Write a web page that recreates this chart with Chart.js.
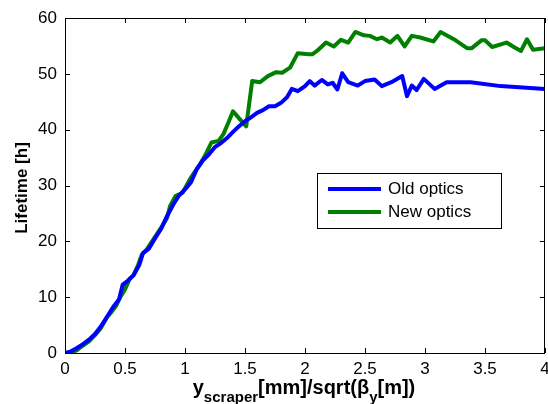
<!DOCTYPE html>
<html>
<head>
<meta charset="utf-8">
<script src="https://cdn.jsdelivr.net/npm/chart.js@4"></script>
<style>
  html, body { margin: 0; padding: 0; background: #fff; }
  #wrap { width: 548px; height: 404px; }
</style>
</head>
<body>
<div id="wrap"><canvas id="chart" width="548" height="404"></canvas></div>
<script>
// Old optics
const oldX = [0, 0.05, 0.1, 0.15, 0.2, 0.25, 0.3, 0.35, 0.4, 0.45, 0.48, 0.52, 0.57, 0.62, 0.65, 0.7, 0.75, 0.8, 0.85, 0.9,
    0.95, 1.0, 1.05, 1.1, 1.15, 1.2, 1.25, 1.3, 1.35, 1.4, 1.45, 1.5, 1.55, 1.6, 1.65, 1.7, 1.75, 1.8, 1.85, 1.89,
    1.94, 2.0, 2.04, 2.08, 2.14, 2.19, 2.23, 2.27, 2.31, 2.36, 2.44, 2.5, 2.58, 2.64, 2.72, 2.81, 2.85, 2.89, 2.93, 2.99,
    3.08, 3.18, 3.38, 3.63, 4.0];
const oldY = [0, 0.3, 0.9, 1.6, 2.4, 3.4, 4.8, 6.5, 8.2, 9.6, 12.2, 12.9, 13.9, 15.8, 17.9, 18.7, 20.5, 22.2, 24.5, 26.5,
    28.2, 29.3, 30.6, 33.0, 34.5, 35.6, 36.9, 37.6, 38.5, 39.6, 40.6, 41.5, 42.2, 43.0, 43.5, 44.2, 44.2, 44.8, 45.8, 47.3,
    46.9, 47.8, 48.7, 47.9, 48.9, 48.1, 48.4, 47.2, 50.1, 48.5, 47.9, 48.7, 49.0, 47.8, 48.5, 49.6, 46.0, 47.9, 47.1, 49.1,
    47.3, 48.5, 48.5, 47.8, 47.3];

// New optics
const newX = [0, 0.05, 0.1, 0.14, 0.2, 0.25, 0.3, 0.35, 0.39, 0.43, 0.46, 0.5, 0.54, 0.57, 0.61, 0.64, 0.68, 0.72, 0.76, 0.8,
    0.85, 0.875, 0.92, 0.98, 1.04, 1.08, 1.125, 1.17, 1.22, 1.28, 1.32, 1.36, 1.40, 1.46, 1.51, 1.56, 1.625, 1.69, 1.76, 1.81,
    1.875, 1.94, 2.03, 2.06, 2.10, 2.175, 2.24, 2.30, 2.36, 2.42, 2.49, 2.54, 2.60, 2.64, 2.71, 2.77, 2.83, 2.89, 2.96, 3.07,
    3.13, 3.24, 3.35, 3.39, 3.47, 3.5, 3.56, 3.68, 3.74, 3.80, 3.85, 3.90, 4.0];
const newY = [0, 0, 0.5, 1.2, 2.1, 3.2, 4.5, 6.4, 7.4, 8.6, 10.0, 11.4, 13.3, 13.9, 15.8, 17.6, 18.5, 19.8, 21.1, 22.4,
    24.2, 26.3, 28.1, 28.7, 31.1, 32.4, 33.8, 35.5, 37.7, 38.0, 39.2, 41.2, 43.3, 41.8, 40.6, 48.7, 48.5, 49.6, 50.3, 50.2,
    51.1, 53.7, 53.5, 53.5, 54.1, 55.6, 54.9, 56.1, 55.6, 57.5, 56.9, 56.8, 56.2, 56.5, 55.6, 56.8, 54.9, 56.8, 56.5, 55.8,
    57.5, 56.2, 54.6, 54.6, 56.0, 56.0, 54.8, 55.6, 54.8, 54.1, 56.2, 54.3, 54.6];

const seriesNames = ["Old optics", "New optics"];
const seriesColors = ["#0000ff", "#008000"];
const xTicks = [0, 0.5, 1, 1.5, 2, 2.5, 3, 3.5, 4];
const yTicks = [0, 10, 20, 30, 40, 50, 60];

const FONT = "'Liberation Sans', Arial, sans-serif";

function toPoints(xs, ys) {
    return xs.map((x, i) => ({ x: x, y: ys[i] }));
}

// box, inward ticks, titles and legend in MATLAB style
const matlabFrame = {
    id: "matlabFrame",
    afterDraw(chart) {
        const ctx = chart.ctx;
        const a = chart.chartArea;
        const xs = chart.scales.x;
        const ys = chart.scales.y;
        ctx.save();
        ctx.strokeStyle = "#000";
        ctx.lineWidth = 1;
        ctx.strokeRect(a.left + 0.5, a.top + 0.5, a.right - a.left - 1, a.bottom - a.top);

        const tl = 5;
        ctx.beginPath();
        xTicks.forEach(v => {
            const px = Math.round(xs.getPixelForValue(v)) + 0.5;
            ctx.moveTo(px, a.bottom); ctx.lineTo(px, a.bottom - tl);
            ctx.moveTo(px, a.top); ctx.lineTo(px, a.top + tl);
        });
        yTicks.forEach(v => {
            const py = Math.round(ys.getPixelForValue(v)) + 0.5;
            ctx.moveTo(a.left, py); ctx.lineTo(a.left + tl, py);
            ctx.moveTo(a.right, py); ctx.lineTo(a.right - tl, py);
        });
        ctx.stroke();

        // y title
        ctx.fillStyle = "#000";
        ctx.save();
        ctx.translate(22, 188);
        ctx.rotate(-Math.PI / 2);
        ctx.font = "bold 17px " + FONT;
        ctx.textAlign = "center";
        ctx.textBaseline = "middle";
        ctx.fillText("Lifetime [h]", 0, 0);
        ctx.restore();

        // x title with subscripts
        const parts = [
            { t: "y", sub: false },
            { t: "scraper", sub: true },
            { t: "[mm]/sqrt(β", sub: false },
            { t: "y", sub: true },
            { t: "[m])", sub: false }
        ];
        const bigF = "bold 20px " + FONT;
        const smallF = "bold 15px " + FONT;
        let total = 0;
        parts.forEach(p => {
            ctx.font = p.sub ? smallF : bigF;
            p.w = ctx.measureText(p.t).width;
            total += p.w;
        });
        let cx = 304 - total / 2;
        ctx.textAlign = "left";
        ctx.textBaseline = "alphabetic";
        parts.forEach(p => {
            ctx.font = p.sub ? smallF : bigF;
            ctx.fillText(p.t, cx, p.sub ? 402 : 394);
            cx += p.w;
        });

        // legend
        const lx = 317, ly = 173, lw = 184, lh = 55;
        ctx.fillStyle = "#fff";
        ctx.fillRect(lx, ly, lw, lh);
        ctx.strokeStyle = "#000";
        ctx.lineWidth = 1;
        ctx.strokeRect(lx + 0.5, ly + 0.5, lw, lh);
        ctx.font = "17px " + FONT;
        ctx.textBaseline = "middle";
        chart.data.datasets.forEach((ds, i) => {
            const yy = 189 + i * 23;
            ctx.strokeStyle = ds.borderColor;
            ctx.lineWidth = 4;
            ctx.beginPath();
            ctx.moveTo(328, yy);
            ctx.lineTo(381, yy);
            ctx.stroke();
            ctx.fillStyle = "#000";
            ctx.fillText(ds.label, 388, yy);
        });
        ctx.restore();
    }
};

new Chart(document.getElementById("chart"), {
    type: "line",
    data: {
        datasets: [
            { label: seriesNames[0], data: toPoints(oldX, oldY), borderColor: seriesColors[0] },
            { label: seriesNames[1], data: toPoints(newX, newY), borderColor: seriesColors[1] }
        ]
    },
    options: {
        responsive: false,
        animation: false,
        layout: { padding: { top: 18, right: 3, left: 0, bottom: 0 } },
        elements: {
            line: { borderWidth: 4, tension: 0, borderJoinStyle: "round", borderCapStyle: "round" },
            point: { radius: 0 }
        },
        plugins: {
            legend: { display: false },
            tooltip: { enabled: false }
        },
        scales: {
            x: {
                type: "linear",
                min: 0,
                max: 4,
                afterFit(scale) {
                    scale.height = 51;
                    scale.paddingLeft = 0;
                    scale.paddingRight = 0;
                },
                afterBuildTicks(scale) { scale.ticks = xTicks.map(v => ({ value: v })); },
                grid: { display: true, drawOnChartArea: false, drawTicks: false },
                border: { display: false },
                ticks: {
                    color: "#000", padding: 6, maxRotation: 0,
                    font: { family: FONT, size: 17 },
                    callback: v => String(v)
                }
            },
            y: {
                min: 0,
                max: 60,
                afterFit(scale) {
                    scale.width = 65;
                    scale.paddingTop = 0;
                    scale.paddingBottom = 0;
                },
                afterBuildTicks(scale) { scale.ticks = yTicks.map(v => ({ value: v })); },
                grid: { display: true, drawOnChartArea: false, drawTicks: false },
                border: { display: false },
                ticks: {
                    color: "#000", padding: 8,
                    font: { family: FONT, size: 17 },
                    callback: v => String(v)
                }
            }
        }
    },
    plugins: [matlabFrame]
});
</script>
</body>
</html>
